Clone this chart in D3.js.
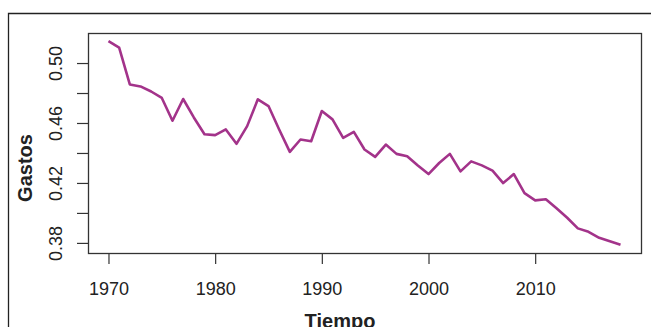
<!DOCTYPE html>
<html>
<head>
<meta charset="utf-8">
<script src="https://cdn.jsdelivr.net/npm/d3@7"></script>
<style>
  body { margin: 0; background: #fff; }
  text { font-family: "Liberation Sans", Arial, sans-serif; fill: #222; }
</style>
</head>
<body>
<script>
// años y gastos
let years = d3.range(1970, 2019)
let gastos = [
  0.5146, 0.5103, 0.4857, 0.4844, 0.4810, 0.4767, 0.4615, 0.4760, 0.4637, 0.4525,
  0.4519, 0.4557, 0.4461, 0.4579, 0.4758, 0.4713, 0.4557, 0.4407, 0.4490, 0.4478,
  0.4680, 0.4624, 0.4501, 0.4541, 0.4423, 0.4374, 0.4456, 0.4394, 0.4378, 0.4317,
  0.4259, 0.4333, 0.4394, 0.4277, 0.4344, 0.4317, 0.4282, 0.4199, 0.4259, 0.4132,
  0.4084, 0.4091, 0.4031, 0.3968, 0.3897, 0.3874, 0.3834, 0.3811, 0.3787
]
let xTicks = [1970, 1980, 1990, 2000, 2010]
let yTicks = [0.38, 0.40, 0.42, 0.44, 0.46, 0.48, 0.50]
let yLabels = [0.38, 0.42, 0.46, 0.50]

const W = 651, H = 327
const box = {left: 88, top: 33, right: 641, bottom: 253}

let svg = d3.select('body').append('svg')
  .attr('width', W)
  .attr('height', H)

// marco exterior (solo izquierda y arriba visibles)
svg.append('path')
  .attr('d', `M8.5,${H} V13.5 H${W}`)
  .attr('fill', 'none')
  .attr('stroke', '#222')
  .attr('stroke-width', 1.3)

// rango con 4% extra como en R
let pad = (ext) => {
  let d = (ext[1] - ext[0]) * 0.04
  return [ext[0] - d, ext[1] + d]
}

let x = d3.scaleLinear().domain(pad(d3.extent(years))).range([box.left, box.right])
let y = d3.scaleLinear().domain(pad(d3.extent(gastos))).range([box.bottom, box.top])

let xAxis = svg.append('g')
  .attr('transform', `translate(0,${box.bottom})`)
  .call(d3.axisBottom(x).tickValues(xTicks).tickFormat(d3.format('d')).tickSize(11).tickSizeOuter(0))
xAxis.select('.domain').remove()
xAxis.selectAll('line').attr('stroke', '#333').attr('stroke-width', 1.2)
xAxis.selectAll('text')
  .attr('y', 0)
  .attr('dy', 0)
  .attr('transform', 'translate(0,42)')
  .style('font-size', '18px')
  .style('font-family', '"Liberation Sans", Arial, sans-serif')
  .attr('fill', '#222')

let yAxis = svg.append('g')
  .attr('transform', `translate(${box.left},0)`)
  .call(d3.axisLeft(y).tickValues(yTicks).tickFormat(d => yLabels.includes(d) ? d3.format('.2f')(d) : '').tickSize(11).tickSizeOuter(0))
yAxis.select('.domain').remove()
yAxis.selectAll('line').attr('stroke', '#333').attr('stroke-width', 1.2)
yAxis.selectAll('text')
  .attr('x', 0)
  .attr('dy', 0)
  .attr('transform', 'translate(-26,0) rotate(-90)')
  .attr('text-anchor', 'middle')
  .style('font-size', '18px')
  .style('font-family', '"Liberation Sans", Arial, sans-serif')
  .attr('fill', '#222')

// caja del grafico
svg.append('rect')
  .attr('x', box.left + 0.5)
  .attr('y', box.top + 0.5)
  .attr('width', box.right - box.left)
  .attr('height', box.bottom - box.top)
  .attr('fill', 'none')
  .attr('stroke', '#333')
  .attr('stroke-width', 1.3)

let line = d3.line()
  .x((d, i) => x(years[i]))
  .y(d => y(d))

svg.append('path')
  .datum(gastos)
  .attr('d', line)
  .attr('fill', 'none')
  .attr('stroke', '#a3338a')
  .attr('stroke-width', 2.6)
  .attr('stroke-linejoin', 'round')

svg.append('text')
  .attr('x', 340)
  .attr('y', 328)
  .attr('text-anchor', 'middle')
  .style('font-size', '20px')
  .style('font-weight', 'bold')
  .text('Tiempo')

svg.append('text')
  .attr('transform', 'translate(32,168) rotate(-90)')
  .attr('text-anchor', 'middle')
  .style('font-size', '20px')
  .style('font-weight', 'bold')
  .text('Gastos')
</script>
</body>
</html>
